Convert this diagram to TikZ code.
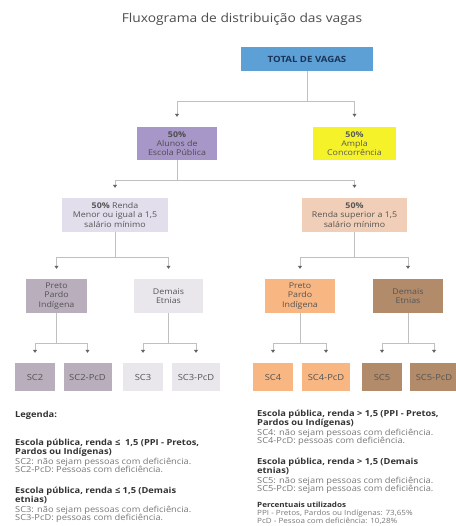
\documentclass[tikz,border=0pt]{standalone}
\usepackage{fontspec}
\setmainfont{Open Sans}[FakeStretch=1.12]
\usetikzlibrary{arrows.meta,positioning}
\definecolor{totblue}{RGB}{93,160,214}
\definecolor{totnavy}{RGB}{28,52,88}
\definecolor{pubviolet}{RGB}{167,151,200}
\definecolor{amplayellow}{RGB}{246,242,42}
\definecolor{menorlilac}{RGB}{226,222,236}
\definecolor{maiorpeach}{RGB}{241,206,183}
\definecolor{ppimauve}{RGB}{185,174,188}
\definecolor{demaisgray}{RGB}{233,231,235}
\definecolor{ppiorange}{RGB}{247,182,130}
\definecolor{demaisbrown}{RGB}{178,139,106}
\definecolor{txtgray}{RGB}{85,85,85}
\definecolor{lightgray}{RGB}{120,120,120}
\definecolor{linegray}{RGB}{192,192,192}
\definecolor{tipgray}{RGB}{100,100,100}

\begin{document}
\begin{tikzpicture}[x=1pt, y=-1pt,
  box/.style={rectangle, inner sep=1pt, align=center, text=txtgray, font=\fontsize{7.9}{9.3}\selectfont, minimum height=34pt},
  scbox/.style={box, minimum height=28pt, minimum width=40pt, font=\fontsize{8.4}{9.2}\selectfont},
  pcdbox/.style={scbox, minimum width=48pt},
  legend/.style={anchor=north west, align=left, inner sep=0pt, text=black!80, font=\fontsize{8.3}{8.5}\selectfont},
  link/.style={draw=linegray, line width=0.8pt, -{Triangle[length=3pt, width=4pt, color=tipgray]}, shorten >=10pt}
]
\useasboundingbox[fill=white] (0,0) rectangle (455,526);

\node[text=black!70, font=\fontsize{12.3}{14}\selectfont] (title) at (242,19) {Fluxograma de distribuição das vagas};

% level 0 and 1
\node[box, fill=totblue, minimum width=132pt, minimum height=24pt, text=totnavy, font=\fontsize{8.6}{9}\bfseries] (tot) at (307,59) {TOTAL DE VAGAS};
\node[box, fill=pubviolet, minimum width=80pt, minimum height=33pt, text=black!70] (pub) at (177,143.5) {\textbf{50\%}\\Alunos de\\Escola Pública};
\node[box, fill=amplayellow, minimum width=83pt, minimum height=33pt, text=black!65] (ampla) at (354.5,143.5) {\textbf{50\%}\\Ampla\\Concorrência};

% renda
\node[box, fill=menorlilac, minimum width=106pt] (rmenor) at (115,215) {\textbf{50\%} Renda\\Menor ou igual a 1,5\\salário mínimo};
\node[box, fill=maiorpeach, minimum width=105pt] (rmaior) at (354.5,215) {\textbf{50\%}\\Renda superior a 1,5\\salário mínimo};

% etnias
\node[box, fill=ppimauve, minimum width=61pt] (ppiA) at (56.5,296) {Preto\\Pardo\\Indígena};
\node[box, fill=demaisgray, minimum width=69pt] (demA) at (168.5,296) {Demais\\Etnias};
\node[box, fill=ppiorange, minimum width=70pt] (ppiB) at (300,296) {Preto\\Pardo\\Indígena};
\node[box, fill=demaisbrown, minimum width=70pt] (demB) at (408,296) {Demais\\Etnias};

% subcotas
\node[scbox, fill=ppimauve] (sc2) at (35,377) {SC2};
\node[pcdbox, fill=ppimauve] (sc2p) at (87.5,377) {SC2-PcD};
\node[scbox, fill=demaisgray] (sc3) at (143,377) {SC3};
\node[pcdbox, fill=demaisgray] (sc3p) at (196,377) {SC3-PcD};
\node[scbox, fill=ppiorange] (sc4) at (273,377) {SC4};
\node[pcdbox, fill=ppiorange] (sc4p) at (326,377) {SC4-PcD};
\node[scbox, fill=demaisbrown] (sc5) at (382,377) {SC5};
\node[pcdbox, fill=demaisbrown] (sc5p) at (434,377) {SC5-PcD};

\draw[link] (tot.south) -- ++(0,30) -| (pub.north);
\draw[link] (tot.south) -- ++(0,30) -| (ampla.north);
\draw[link] (pub.south) -- ++(0,20) -| (rmenor.north);
\draw[link] (pub.south) -- ++(0,20) -| (rmaior.north);
\draw[link] (rmenor.south) -- ++(0,25) -| (ppiA.north);
\draw[link] (rmenor.south) -- ++(0,25) -| (demA.north);
\draw[link] (rmaior.south) -- ++(0,25) -| (ppiB.north);
\draw[link] (rmaior.south) -- ++(0,25) -| (demB.north);
\draw[link] (ppiA.south) -- ++(0,30) -| (sc2.north);
\draw[link] (ppiA.south) -- ++(0,30) -| (sc2p.north);
\draw[link] (demA.south) -- ++(0,30) -| (sc3.north);
\draw[link] (demA.south) -- ++(0,30) -| (sc3p.north);
\draw[link] (ppiB.south) -- ++(0,30) -| (sc4.north);
\draw[link] (ppiB.south) -- ++(0,30) -| (sc4p.north);
\draw[link] (demB.south) -- ++(0,30) -| (sc5.north);
\draw[link] (demB.south) -- ++(0,30) -| (sc5p.north);

% legenda
\node[legend] (leg) at (15,411) {\textbf{Legenda:}};
\node[legend] (legA) at (15,439) {\textbf{Escola pública, renda ≤ \ 1,5 (PPI - Pretos,}\\\textbf{Pardos ou Indígenas)}\\[1.5pt]
  {\color{lightgray}SC2: não sejam pessoas com deficiência.}\\{\color{lightgray}SC2-PcD: Pessoas com deficiência.}};
\node[legend] (legB) at (15,487) {\textbf{Escola pública, renda ≤ 1,5 (Demais}\\\textbf{etnias)}\\[1.5pt]
  {\color{lightgray}SC3: não sejam pessoas com deficiência.}\\{\color{lightgray}SC3-PcD: pessoas com deficiência.}};
\node[legend] (legC) at (257,410) {\textbf{Escola pública, renda > 1,5 (PPI - Pretos,}\\\textbf{Pardos ou Indígenas)}\\[1.5pt]
  {\color{lightgray}SC4: não sejam pessoas com deficiência.}\\{\color{lightgray}SC4-PcD: pessoas com deficiência.}};
\node[legend] (legD) at (257,458) {\textbf{Escola pública, renda > 1,5 (Demais}\\\textbf{etnias)}\\[1.5pt]
  {\color{lightgray}SC5: não sejam pessoas com deficiência.}\\{\color{lightgray}SC5-PcD: sejam pessoas com deficiência.}};
\node[legend, font=\fontsize{7.2}{8}\selectfont] (legE) at (257,502) {\textbf{Percentuais utilizados}\\
  {\color{lightgray}PPI - Pretos, Pardos ou Indígenas: 73,65\%}\\{\color{lightgray}PcD - Pessoa com deficiência: 10,28\%}};
\end{tikzpicture}
\end{document}
